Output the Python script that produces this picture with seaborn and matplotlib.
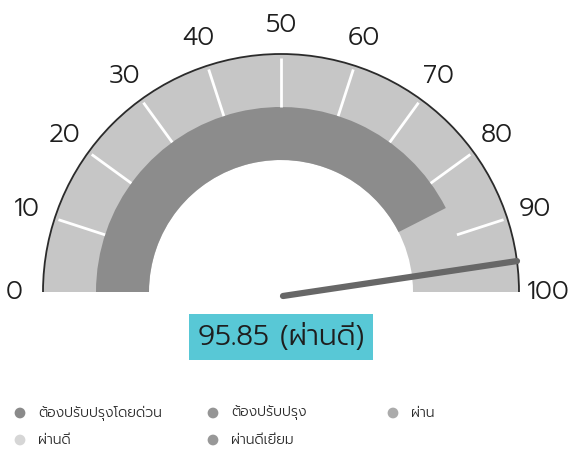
import numpy as np
import matplotlib
matplotlib.use("Agg")
import matplotlib.pyplot as plt
from matplotlib.patches import Wedge, Arc
import seaborn as sns

# ---------------------------------------------------------------------------
# data
# ---------------------------------------------------------------------------
tick_values = [0, 10, 20, 30, 40, 50, 60, 70, 80, 90, 100]
score = 95.85
score_text = "95.85 (ผ่านดี)"
band_value = 85          # inner dark band reaches here
legend_labels = ["ต้องปรับปรุงโดยด่วน", "ต้องปรับปรุง", "ผ่าน", "ผ่านดี", "ผ่านดีเยี่ยม"]
legend_colors = ["#8a8a8a", "#959595", "#ababab", "#d6d6d6", "#989898"]

# ---------------------------------------------------------------------------
# style
# ---------------------------------------------------------------------------
sns.set_theme(style="white")
plt.rcParams["font.family"] = ["Prompt", "DejaVu Sans"]

light = "#c6c6c6"
dark = "#8c8c8c"
needle_col = "#676767"
cyan = "#58c8d6"

W, H = 575, 454
fig = plt.figure(figsize=(W / 100, H / 100), dpi=100)
ax = fig.add_axes([0, 0, 1, 1])
ax.set_xlim(0, W)
ax.set_ylim(0, H)
ax.set_aspect("equal")
ax.axis("off")

cx, cy = 281, 162        # gauge centre (pixels from bottom-left)
r_out, r_mid, r_in = 238, 185, 132
r_lab = 267


def ang(v):
    # 0 -> left (180 deg), 100 -> right (0 deg)
    return 180 - v / 100 * 180


# light background band, full half circle
ax.add_patch(Wedge((cx, cy), r_out, 0, 180, width=r_out - r_in,
                   facecolor=light, edgecolor="none"))
# darker inner band up to band_value
ax.add_patch(Wedge((cx, cy), r_mid, ang(band_value), 180, width=r_mid - r_in,
                   facecolor=dark, edgecolor="none"))
# outer rim
ax.add_patch(Arc((cx, cy), 2 * r_out, 2 * r_out, theta1=0, theta2=180,
                 color="#2b2b2b", lw=1.3))

# white tick separators + labels
for v in tick_values:
    a = np.radians(ang(v))
    if 0 < v < 100:
        ax.plot([cx + r_mid * np.cos(a), cx + (r_out - 4) * np.cos(a)],
                [cy + r_mid * np.sin(a), cy + (r_out - 4) * np.sin(a)],
                color="white", lw=2, solid_capstyle="butt")
    ax.text(cx + r_lab * np.cos(a), cy + r_lab * np.sin(a), str(v),
            ha="center", va="center", fontsize=18.5, fontweight=300,
            color="#1e1e1e")

# needle
a = np.radians(ang(score))
ax.plot([cx + 2, cx + r_out * np.cos(a)], [cy - 4, cy + r_out * np.sin(a)],
        color=needle_col, lw=4.5, solid_capstyle="round")

# value label with highlight box
ax.text(cx, cy - 45, score_text, ha="center", va="center", fontsize=20.5,
        fontweight=300, color="#1e1e1e",
        bbox=dict(boxstyle="square,pad=0.3", facecolor=cyan, edgecolor="none"))

# legend: 3 columns, row-major
col_x = [20, 213, 393]
row_y = [H - 413, H - 440]
for i, (lab, col) in enumerate(zip(legend_labels, legend_colors)):
    x = col_x[i % 3]
    y = row_y[i // 3]
    ax.scatter([x], [y], s=60, color=col, edgecolor="none")
    ax.text(x + 18, y, lab, ha="left", va="center", fontsize=10,
            fontweight=300, color="#2a2a2a")

fig.savefig("out.png", dpi=100)
